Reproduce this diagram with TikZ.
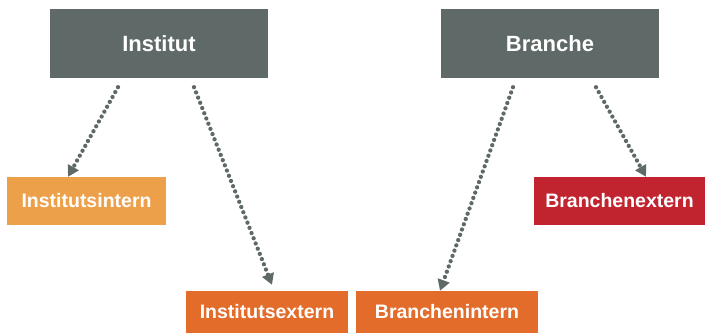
\documentclass[tikz,border=0pt]{standalone}
\usepackage{fontspec}
\setmainfont{Liberation Sans}
\definecolor{slategray}{HTML}{5F6A68}
\definecolor{lightorange}{HTML}{EDA04A}
\definecolor{darkorange}{HTML}{E36C2A}
\definecolor{brickred}{HTML}{C1232F}
\usetikzlibrary{arrows.meta}

\begin{document}
\begin{tikzpicture}[x=1pt, y=-1pt,
  topbox/.style={draw=none, fill=slategray, minimum width=218pt, minimum height=69pt,
    inner sep=0pt, font=\fontsize{22}{26}\selectfont\bfseries, text=white},
  subbox/.style={draw=none, minimum height=48pt, inner sep=0pt,
    font=\fontsize{19.5}{23}\selectfont\bfseries, text=white},
  link/.style={slategray, line width=4.3pt, line cap=round, dash pattern=on 0pt off 5.6pt,
    -{Triangle[length=11pt,width=12pt]}},
]
\useasboundingbox (0,0) rectangle (705,334);

% Two sources
\node[topbox] (inst) at (159,43.5) {Institut};
\node[topbox] (branche) at (550,43.5) {Branche};

% Targets
\node[subbox, fill=lightorange, minimum width=159pt] (iintern) at (86.5,201) {Institutsintern};
\node[subbox, fill=brickred, minimum width=171pt] (bextern) at (619.5,201) {Branchenextern};
\node[subbox, fill=darkorange, minimum width=162pt, minimum height=42pt] (iextern) at (267,312) {Institutsextern};
\node[subbox, fill=darkorange, minimum width=182pt, minimum height=42pt] (bintern) at (447,312) {Branchenintern};

% Dotted arrows
\draw[link] ([shift={(-41,9)}]inst.south) -- ([xshift=-18.5pt]iintern.north);
\draw[link] ([shift={(35,9)}]inst.south) -- ([shift={(5,-6)}]iextern.north);
\draw[link] ([shift={(-37,9)}]branche.south) -- ([xshift=-7pt]bintern.north);
\draw[link] ([shift={(46,9)}]branche.south) -- ([xshift=26.5pt]bextern.north);
\end{tikzpicture}
\end{document}
